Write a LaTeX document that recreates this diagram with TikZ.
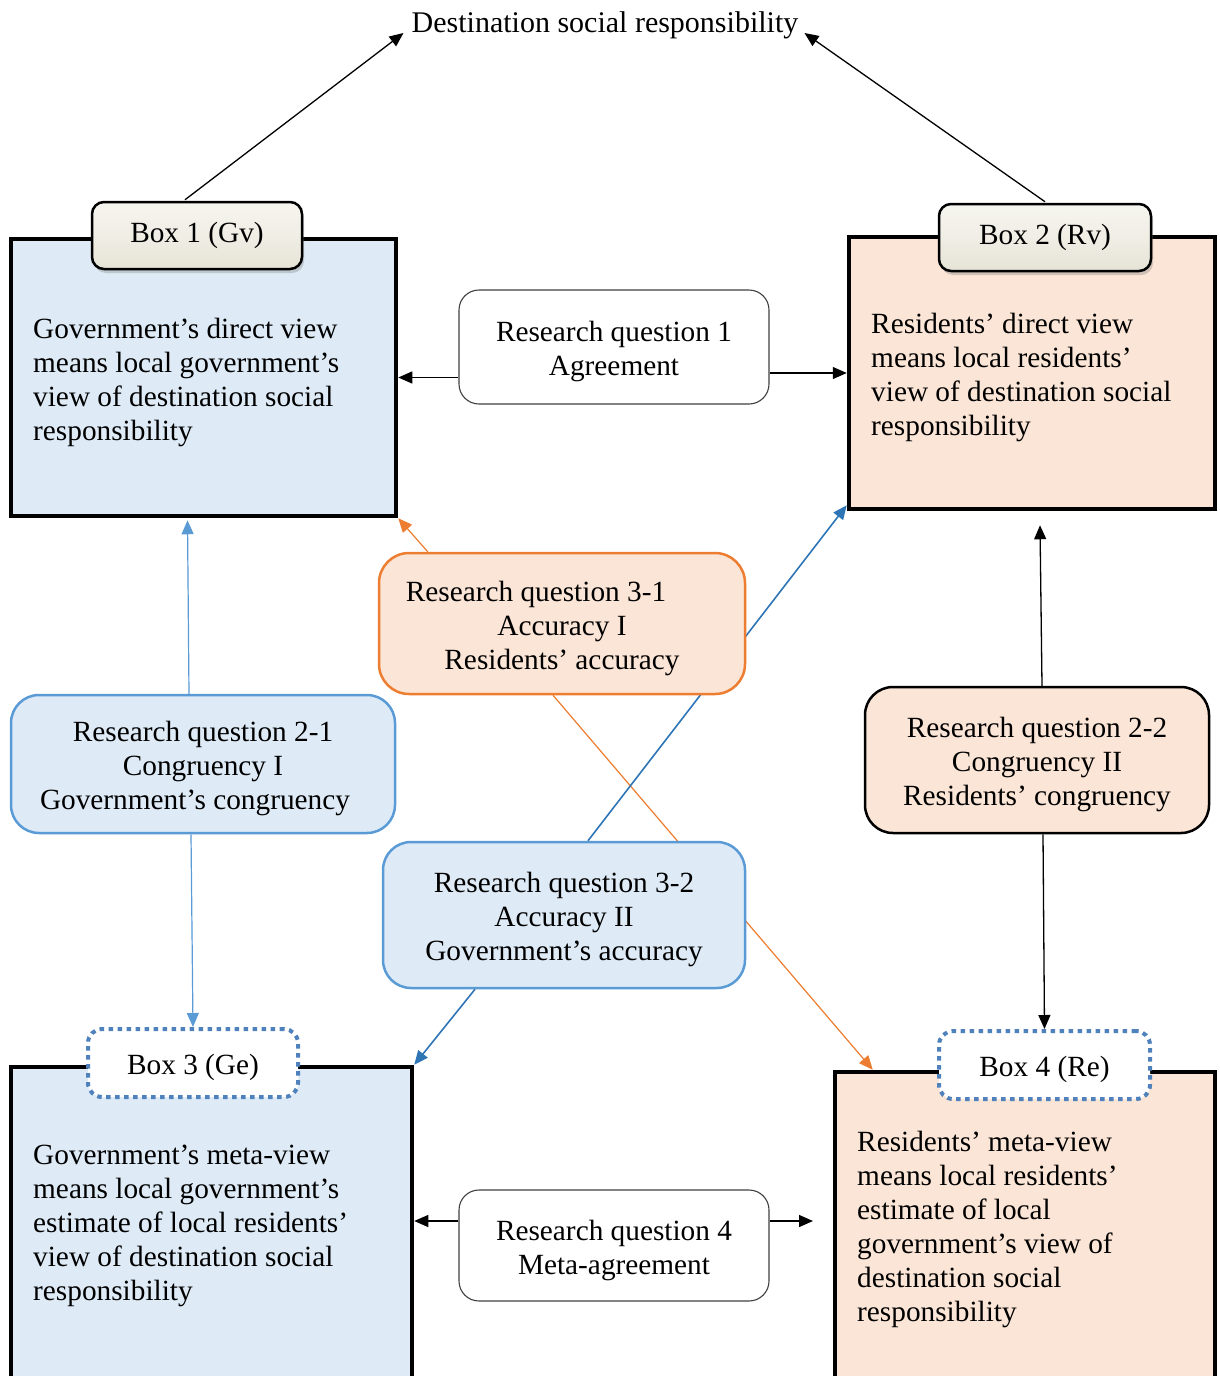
\documentclass[tikz,border=0pt]{standalone}
\usepackage{fontspec}
\setmainfont{Liberation Serif}
\usetikzlibrary{arrows.meta,shadows,backgrounds,calc}
\definecolor{lblue}{HTML}{DEEBF7}
\definecolor{lpeach}{HTML}{FBE5D6}
\definecolor{orng}{HTML}{ED7D31}
\definecolor{bbord}{HTML}{5B9BD5}
\definecolor{barr}{HTML}{2E75B6}
\definecolor{dotb}{HTML}{4F81BD}
\definecolor{beigeA}{HTML}{F6F5EF}
\definecolor{beigeB}{HTML}{E6E3D6}
\newcommand\tstrut{\rule{0pt}{30pt}}
\begin{document}
\begin{tikzpicture}[x=1pt,y=-1pt,
  txt/.style={font=\fontsize{29.3}{34}\selectfont},
  bigbox/.style={draw=black,line width=4.5pt,inner sep=0pt},
  bodytext/.style={txt,anchor=north west,inner sep=0pt,align=left},
  labbox/.style={txt,draw=black,line width=2.5pt,rounded corners=12pt,inner sep=0pt,
     top color=beigeA,bottom color=beigeB,middle color=beigeA!60!beigeB,
     drop shadow={shadow xshift=2pt,shadow yshift=-4pt,opacity=0.35}},
  dotbox/.style={txt,draw=dotb,fill=white,line width=4pt,dash pattern=on 4.5pt off 4.5pt,
     rounded corners=14pt,inner sep=0pt},
  rqplain/.style={txt,draw=black!75,fill=white,line width=1.1pt,rounded corners=20pt,align=center,inner sep=0pt},
  rqblue/.style={txt,draw=bbord,fill=lblue,line width=2.5pt,rounded corners=28pt,align=center,inner sep=0pt},
  rqorange/.style={txt,draw=orng,fill=lpeach,line width=2.5pt,rounded corners=30pt,align=center,inner sep=0pt},
  rqblack/.style={txt,draw=black,fill=lpeach,line width=2.5pt,rounded corners=28pt,align=center,inner sep=0pt},
  arr/.style={-{Triangle[length=14pt,width=12pt]},line width=1.3pt},
]
\useasboundingbox (0,0) rectangle (1219,1376);
\clip (0,0) rectangle (1219,1376);

% title
\node[font=\fontsize{30}{34}\selectfont,inner sep=0pt] (title) at (605,25) {Destination social responsibility};

% big boxes
\node[bigbox,fill=lblue,minimum width=385pt,minimum height=277pt] (box1) at (203.5,377.5) {};
\node[bigbox,fill=lpeach,minimum width=366pt,minimum height=272pt] (box2) at (1032,373) {};
\node[bigbox,fill=lblue,minimum width=401pt,minimum height=330pt] (box3) at (211.5,1232) {};
\node[bigbox,fill=lpeach,minimum width=380pt,minimum height=325pt] (box4) at (1025,1234.5) {};

% body texts
\node[bodytext] (t1) at (33,318) {Government’s direct view\\means local government’s\\view of destination social\\responsibility};
\node[bodytext] (t2) at (871,313) {Residents’ direct view\\means local residents’\\view of destination social\\responsibility};
\node[bodytext] (t3) at (33,1145) {Government’s meta-view\\means local government’s\\estimate of local residents’\\view of destination social\\responsibility};
\node[bodytext] (t4) at (857,1131) {Residents’ meta-view\\means local residents’\\estimate of local\\government’s view of\\destination social\\responsibility};

% labels
\node[labbox,minimum width=210pt,minimum height=67pt] (lab1) at (197,235.5) {Box 1 (Gv)};
\node[labbox,minimum width=212pt,minimum height=67pt] (lab2) at (1045,237.5) {Box 2 (Rv)};
\node[dotbox,minimum width=210pt,minimum height=68pt] (lab3) at (193,1063) {\tstrut Box 3 (Ge)};
\node[dotbox,minimum width=211pt,minimum height=68pt] (lab4) at (1044.5,1065) {\tstrut Box 4 (Re)};

% research questions
\node[rqplain,minimum width=310pt,minimum height=114pt] (rq1) at (614,347) {\tstrut Research question 1\\Agreement};
\node[rqorange,minimum width=366pt,minimum height=141pt] (rq31) at (562,623.5) {\tstrut Research question 3-1\hspace*{52pt}\mbox{}\\Accuracy I\\Residents’ accuracy};
\node[rqblue,minimum width=384pt,minimum height=138pt] (rq21) at (203,764) {\tstrut Research question 2-1\\Congruency I\\Government’s congruency\hspace*{16pt}\mbox{}};
\node[rqblack,minimum width=344pt,minimum height=146pt] (rq22) at (1037,760) {\tstrut Research question 2-2\\Congruency II\\Residents’ congruency};
\node[rqblue,minimum width=362pt,minimum height=146pt] (rq32) at (564,915) {\tstrut Research question 3-2\\Accuracy II\\Government’s accuracy};
\node[rqplain,minimum width=310pt,minimum height=111pt] (rq4) at (614,1245.5) {\tstrut Research question 4\\Meta-agreement};

\coordinate (m4) at (0,1221);
\coordinate (r4end) at (813,1221);

% connectors behind boxes
\begin{pgfonlayer}{background}
\draw[arr,draw=orng,fill=orng,line width=1.2pt] ($(rq31.south)+(-9,0)$) -- ($(box4.north west)+(40,0)$);
\draw[arr,draw=barr,fill=barr,line width=1.6pt] ($(rq32.north)+(24,0)$) -- ($(box2.south west)+(0,-6)$);
\end{pgfonlayer}

% connectors
\draw[arr] ($(lab1.north)+(-12,-1)$) -- ($(title.west)+(-8,8)$);
\draw[arr] ($(lab2.north)+(0,-1)$) -- ($(title.east)+(6,8)$);
\draw[arr] (rq1.west |- box1.east) -- (box1.east);
\draw[arr] (rq1.east |- box2.west) -- (box2.west);
\draw[arr,draw=bbord,fill=bbord,line width=1.2pt] ($(rq21.north)+(-14,0)$) -- ($(box1.south)+(-16,2)$);
\draw[arr,draw=bbord,fill=bbord,line width=1.2pt] ($(rq21.south)+(-12,0)$) -- (lab3.north);
\draw[arr] ($(rq22.north)+(5,0)$) -- ($(box2.south)+(8,14)$);
\draw[arr] ($(rq22.south)+(6,0)$) -- (lab4.north);
\draw[arr,draw=orng,fill=orng,line width=1.2pt] ($(rq31.north west)+(50,0)$) -- (box1.south east);
\draw[arr,draw=barr,fill=barr,line width=1.6pt] ($(rq32.south)+(-89,0)$) -- (box3.north east);
\draw[arr] (rq4.west |- m4) -- (box3.east |- m4);
\draw[arr] (rq4.east |- m4) -- (r4end);
\end{tikzpicture}
\end{document}
